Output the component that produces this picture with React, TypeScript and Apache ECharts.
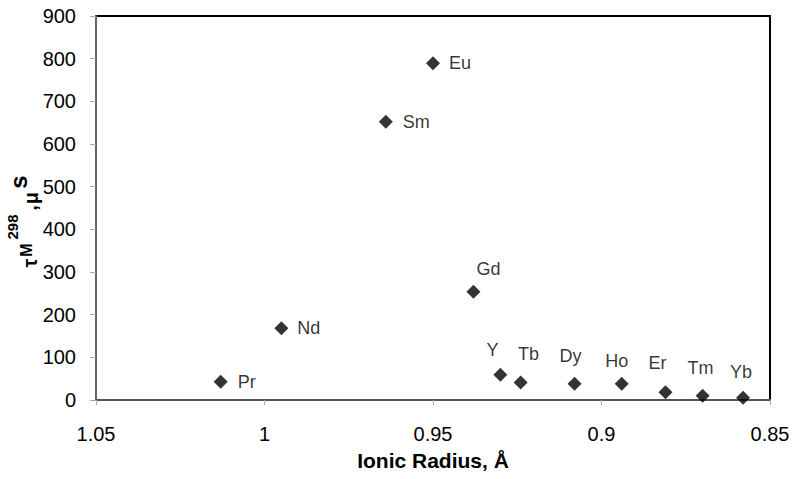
import React, { useEffect, useRef } from "react";
import * as echarts from "echarts";

const elements = ["Pr", "Nd", "Sm", "Eu", "Gd", "Y", "Tb", "Dy", "Ho", "Er", "Tm", "Yb"];
const ionicRadius = [1.013, 0.995, 0.964, 0.95, 0.938, 0.93, 0.924, 0.908, 0.894, 0.881, 0.87, 0.858];
const tauM298 = [43, 168, 652, 789, 254, 59, 41, 38, 38, 18, 10, 5];

const xTicks = { min: 0.85, max: 1.05, interval: 0.05 };
const yTicks = { min: 0, max: 900, interval: 100 };

// label placement (style only)
const labelPlacement: Record<string, any> = {
  Pr: { position: "right", distance: 10 },
  Nd: { position: "right", distance: 9 },
  Sm: { position: "right", distance: 10 },
  Eu: { position: "right", distance: 9 },
  Gd: { position: "inside", offset: [15, -23] },
  Y: { position: "inside", offset: [-8, -25] },
  Tb: { position: "inside", offset: [8, -29] },
  Dy: { position: "inside", offset: [-4, -28] },
  Ho: { position: "inside", offset: [-5, -23] },
  Er: { position: "inside", offset: [-8, -29] },
  Tm: { position: "inside", offset: [-2, -28] },
  Yb: { position: "inside", offset: [-2, -26] },
};

const FONT = "'Liberation Sans', Arial, sans-serif";

export default function App() {
  const ref = useRef<HTMLDivElement>(null);
  useEffect(() => {
    if (!ref.current) return;
    const chart = echarts.init(ref.current, undefined, { renderer: "svg" });
    const data = elements.map((name, i) => ({
      name,
      value: [ionicRadius[i], tauM298[i]],
      label: { ...labelPlacement[name] },
    }));
    const titleText = (text: string, x: number, y: number, size: number) => ({
      type: "text",
      x,
      y,
      rotation: Math.PI / 2,
      style: {
        text,
        fill: "#000",
        font: `bold ${size}px ${FONT}`,
        align: "center",
        verticalAlign: "middle",
      },
    });
    chart.setOption({
      animation: false,
      backgroundColor: "#fff",
      textStyle: { fontFamily: FONT },
      grid: {
        left: 96,
        right: 30,
        top: 16,
        bottom: 79,
        show: true,
        borderColor: "#000",
        borderWidth: 2,
        backgroundColor: "transparent",
      },
      xAxis: {
        type: "value",
        inverse: true,
        min: xTicks.min,
        max: xTicks.max,
        interval: xTicks.interval,
        name: "Ionic Radius, Å",
        nameLocation: "middle",
        nameGap: 50,
        nameTextStyle: { fontSize: 21, fontWeight: "bold", color: "#000", fontFamily: FONT },
        axisLine: { show: true, lineStyle: { color: "#555", width: 2 } },
        axisTick: { show: true, length: 5, lineStyle: { color: "#aaa", width: 1 } },
        axisLabel: {
          fontSize: 20,
          color: "#000",
          margin: 24,
          fontFamily: FONT,
          formatter: (v: number) => String(parseFloat(v.toFixed(2))),
        },
        splitLine: { show: false },
      },
      yAxis: {
        type: "value",
        min: yTicks.min,
        max: yTicks.max,
        interval: yTicks.interval,
        axisLine: { show: true, lineStyle: { color: "#666", width: 2 } },
        axisTick: { show: true, length: 6, lineStyle: { color: "#aaa", width: 1 } },
        axisLabel: { fontSize: 20, color: "#000", margin: 20, fontFamily: FONT },
        splitLine: { show: false },
      },
      graphic: [
        titleText("τ", 30, 263, 20),
        titleText("M", 26, 250, 16),
        titleText("298", 12, 227, 15),
        titleText(",", 30, 208, 20),
        titleText("μ", 31, 198, 20),
        titleText("s", 18, 182, 24),
      ],
      series: [
        {
          type: "scatter",
          symbol: "diamond",
          symbolSize: [14, 14],
          itemStyle: { color: "#000" },
          data,
          label: {
            show: true,
            formatter: "{b}",
            color: "#000",
            fontSize: 18,
            fontFamily: FONT,
          },
        },
      ],
    });
    return () => chart.dispose();
  }, []);
  return (
    <div
      ref={ref}
      style={{ position: "fixed", left: 0, top: 0, width: 800, height: 479 }}
    />
  );
}
